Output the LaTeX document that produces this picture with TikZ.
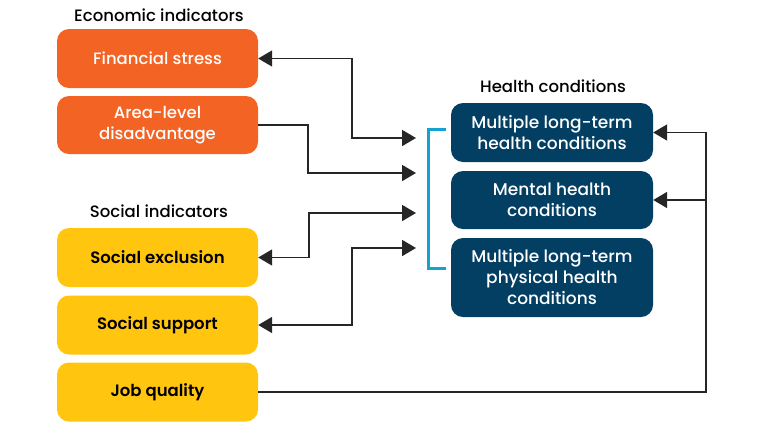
\documentclass[tikz,border=0pt]{standalone}
\usepackage{fontspec}
\setmainfont{Poppins}[UprightFont=* Medium, BoldFont=* SemiBold]
\newfontfamily\bookfont{Poppins}
\usetikzlibrary{arrows.meta}
\definecolor{orng}{HTML}{F26324}
\definecolor{yel}{HTML}{FFC50F}
\definecolor{navy}{HTML}{033F63}
\definecolor{brk}{HTML}{12A3D4}
\tikzset{
  box/.style={rounded corners=12pt, minimum width=201pt, inner sep=0pt, align=center, font=\fontsize{16.5}{21}\selectfont},
  econ/.style={box, fill=orng, text=white},
  soc/.style={box, fill=yel, text=black, font=\fontsize{16.5}{21}\selectfont\bfseries},
  hlth/.style={box, fill=navy, text=white, minimum width=202pt, font=\fontsize{17}{21}\selectfont},
  head/.style={font=\fontsize{16.5}{20}\selectfont, text=black},
  conn/.style={line width=1.8pt, black!85},
  tip/.style={-{Triangle[length=14pt,width=16pt]}},
  tips/.style={{Triangle[length=14pt,width=16pt]}-{Triangle[length=14pt,width=16pt]}}
}
\begin{document}
\begin{tikzpicture}[x=1pt,y=-1pt]
\useasboundingbox (0,0) rectangle (773,445);
% headings
\node[head] (eh) at (159,15) {Economic indicators};
\node[head] (sh) at (159,211) {Social indicators};
\node[head] (hh) at (553,86) {Health conditions};
% left boxes
\node[econ, minimum height=59pt] (fs) at (157.5,58.5) {Financial stress};
\node[econ, minimum height=58pt] (ad) at (157.5,125) {Area-level\\disadvantage};
\node[soc, minimum height=59pt] (se) at (157.5,257.5) {Social exclusion};
\node[soc, minimum height=59pt] (ss) at (157.5,325) {Social support};
\node[soc, minimum height=59pt] (jq) at (157.5,392) {Job quality};
% right boxes
\node[hlth, minimum height=59pt] (h1) at (552,132.5) {Multiple long-term\\health conditions};
\node[hlth, minimum height=58pt] (h2) at (552,200) {Mental health\\conditions};
\node[hlth, minimum height=79pt] (h3) at (552,277.5) {Multiple long-term\\physical health\\conditions};
% bracket
\draw[brk, line width=3pt] (446,129) -- (428,129) -- (428,268) -- (446,268);
% targets
\coordinate (t1) at (416,138);
\coordinate (t2) at (416,173);
\coordinate (t3) at (416,213);
\coordinate (t4) at (416,248);
\coordinate (jx) at (706,0);
% connectors
\draw[conn, tips] (fs.east) -- ++(94,0) |- (t1);
\draw[conn, tip] (ad.east) -- ++(50,0) |- (t2);
\draw[conn, tips] (se.east) -- ++(51,0) |- (t3);
\draw[conn, tips] (ss.east) -- ++(94,0) |- (t4);
\draw[conn, tip] (jq.east) -| (jx |- h1.east) -- (h1.east);
\draw[conn, tip] (jx |- h2.east) -- (h2.east);
\end{tikzpicture}
\end{document}
